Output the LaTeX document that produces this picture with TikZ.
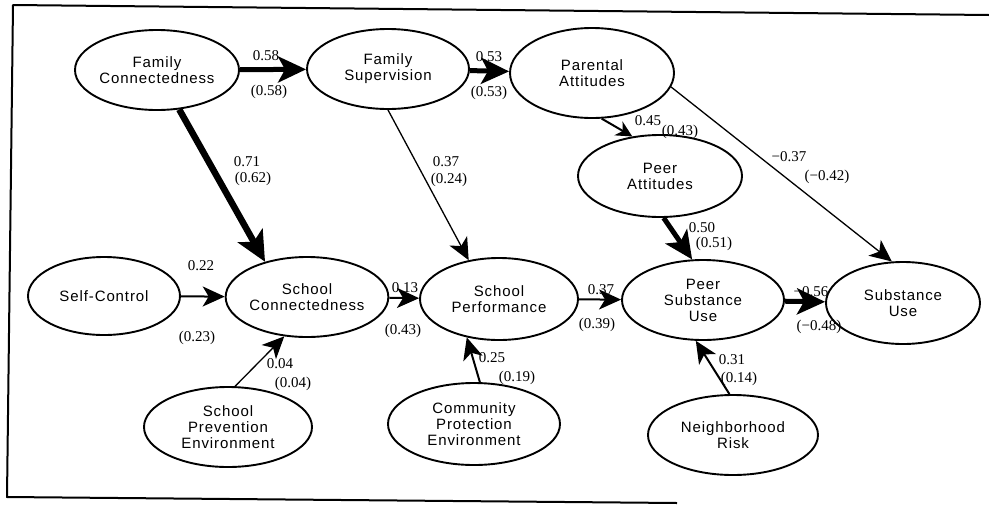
\documentclass[tikz,border=0pt]{standalone}
\usepackage{fontspec}
\setmainfont{Liberation Serif}
\newfontfamily\labelfont[LetterSpace=6]{Liberation Sans}
\usepackage{tikz}
\usetikzlibrary{arrows.meta}
\usetikzlibrary{shapes.geometric}

\begin{document}
\begin{tikzpicture}[x=1pt,y=-1pt,->,>={Stealth[length=22pt,width=20pt,inset=6pt]},
			line join=round]
			\tikzstyle{construct}=[ellipse,draw,line width=1.9pt,inner sep=0pt,align=center,
				font=\labelfont\fontsize{15}{16}\selectfont]
			\tikzstyle{coef}=[inner sep=0pt,font=\fontsize{15}{16}\selectfont]
			\tikzstyle{weak}=[line width=1.3pt]
			\tikzstyle{mid}=[line width=2pt]
			\tikzstyle{strong}=[line width=5pt,>={Stealth[length=28pt,width=26pt,inset=7pt]}]
			\tikzstyle{heavy}=[line width=6.5pt,>={Stealth[length=30pt,width=28pt,inset=7pt]}]

			\useasboundingbox (0,0) rectangle (989,504);
			% frame
			\draw[-,line width=2pt] (989,15) -- (13,5) -- (7,497) -- (677,503);

			% constructs
			\node[construct,minimum width=164pt,minimum height=80pt] (FC) at (157,70) {Family\\Connectedness};
			\node[construct,minimum width=162pt,minimum height=80pt] (FS) at (388,69) {Family\\Supervision};
			\node[construct,minimum width=164pt,minimum height=90pt] (PA) at (592,73) {Parental\\Attitudes};
			\node[construct,minimum width=164pt,minimum height=82pt] (PeA) at (660,176) {Peer\\Attitudes};
			\node[construct,minimum width=152pt,minimum height=78pt] (SC) at (104,296) {Self-Control};
			\node[construct,minimum width=152pt,minimum height=80pt] (SCo) at (307,297) {School\\Connectedness};
			\node[construct,minimum width=158pt,minimum height=82pt] (SP) at (499,299) {School\\Performance};
			\node[construct,minimum width=162pt,minimum height=80pt] (PSU) at (703,300) {Peer\\Substance\\Use};
			\node[construct,minimum width=154pt,minimum height=82pt] (SU) at (903,303) {Substance\\Use};
			\node[construct,minimum width=168pt,minimum height=80pt] (SPE) at (228,427) {School\\Prevention\\Environment};
			\node[construct,minimum width=172pt,minimum height=82pt] (CPE) at (474,424) {Community\\Protection\\Environment};
			\node[construct,minimum width=170pt,minimum height=80pt] (NR) at (733,435) {Neighborhood\\Risk};

			% paths
			\path
				(FC) edge[strong] (FS)
					edge[heavy] (SCo.140)
				(FS) edge[strong] (PA)
				(FS.south) edge[weak] (SP.128)
				(PA.-78) edge[mid,>={Stealth[length=16pt,width=16pt,inset=5pt]}] (PeA.125)
				(PA.-10) edge[weak] (SU.105)
				(PeA.-85) edge[strong] (PSU.105)
				(SC) edge[mid] (SCo)
				(SCo) edge[mid] (SP)
				(SP) edge[mid] (PSU)
				(PSU) edge[strong] (SU)
				(SPE.80) edge[weak] (SCo.-120)
				(CPE.82) edge[mid] (SP.-130)
				(NR.95) edge[mid] (PSU.-100)
			;

			% coefficients
			\node[coef] (c1) at (266,56) {0.58};
			\node[coef] (c1s) at (269,92) {(0.58)};
			\node[coef] (c2) at (489,57) {0.53};
			\node[coef] (c2s) at (489,93) {(0.53)};
			\node[coef] (c3) at (247,162) {0.71};
			\node[coef] (c3s) at (253,179) {(0.62)};
			\node[coef] (c4) at (446,162) {0.37};
			\node[coef] (c4s) at (449,180) {(0.24)};
			\node[coef] (c5) at (648,121) {0.45};
			\node[coef] (c5s) at (680,132) {(0.43)};
			\node[coef] (c6) at (789,157) {−0.37};
			\node[coef] (c6s) at (827,177) {(−0.42)};
			\node[coef] (c7) at (702,228) {0.50};
			\node[coef] (c7s) at (714,244) {(0.51)};
			\node[coef] (c8) at (201,266) {0.22};
			\node[coef] (c8s) at (197,338) {(0.23)};
			\node[coef] (c9) at (405,288) {0.13};
			\node[coef] (c9s) at (403,331) {(0.43)};
			\node[coef] (c10) at (280,364) {0.04};
			\node[coef] (c10s) at (293,384) {(0.04)};
			\node[coef] (c11) at (492,358) {0.25};
			\node[coef] (c11s) at (517,378) {(0.19)};
			\node[coef] (c12) at (601,290) {0.37};
			\node[coef] (c12s) at (597,325) {(0.39)};
			\node[coef] (c13) at (811,292) {−0.56};
			\node[coef] (c13s) at (819,327) {(−0.48)};
			\node[coef] (c14) at (732,360) {0.31};
			\node[coef] (c14s) at (739,379) {(0.14)};
\end{tikzpicture}
\end{document}
